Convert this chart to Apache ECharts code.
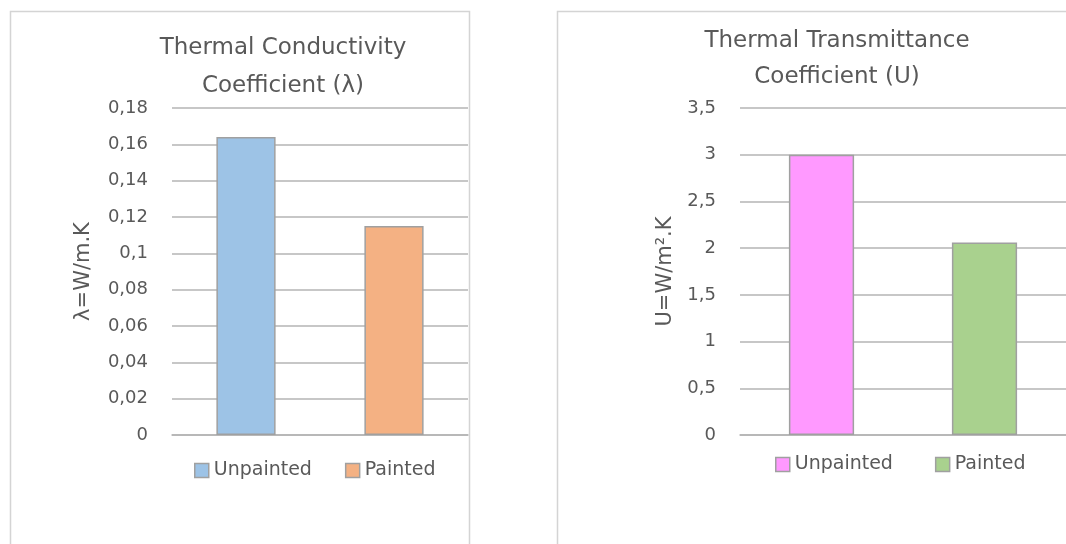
<!DOCTYPE html>
<html><head><meta charset="utf-8">
<script src="https://cdn.jsdelivr.net/npm/echarts@6/dist/echarts.min.js"></script>
<style>html,body{margin:0;padding:0;background:#fff}#c{width:1066px;height:544px}</style>
</head><body><div id="c"></div>
<script>
// ---- data ----
const categories = ['Unpainted', 'Painted'];
const lambdaValues = [0.164, 0.115];
const uValues = [3.0, 2.06];
const lambdaAxis = { min: 0, max: 0.18, interval: 0.02 };
const uAxis = { min: 0, max: 3.5, interval: 0.5 };
const titles = ['Thermal Conductivity\nCoefficient (λ)', 'Thermal Transmittance\nCoefficient (U)'];
const axisNames = ['λ=W/m.K', 'U=W/m².K'];
const leftColors = ['#9DC3E6', '#F4B183'];
const rightColors = ['#FF99FF', '#A9D18E'];

// ---- styles ----
const FONT = 'DejaVu Sans';
const TXT = '#595959';
const GRID = '#b4b4b4';
const BORDER = '#a0a0a0';

function fmt(v) { return String(+v.toFixed(2)).replace('.', ','); }

function yAxisFor(idx, ax, name, gap) {
  return {
    type: 'value', gridIndex: idx, min: ax.min, max: ax.max, interval: ax.interval,
    name: name, nameLocation: 'middle', nameGap: gap,
    nameTextStyle: { color: TXT, fontFamily: FONT, fontSize: 21 },
    axisLine: { show: false }, axisTick: { show: false },
    axisLabel: { color: TXT, fontFamily: FONT, fontSize: 18, margin: 24, formatter: fmt },
    splitLine: { lineStyle: { color: GRID, width: 1.5 } }
  };
}
function xAxisFor(idx) {
  return {
    type: 'category', gridIndex: idx, data: categories,
    axisLine: { lineStyle: { color: GRID, width: 1.5 } },
    axisTick: { show: false }, axisLabel: { show: false }
  };
}
function seriesFor(idx, values, colors) {
  return categories.map((c, i) => ({
    type: 'bar', name: c, xAxisIndex: idx, yAxisIndex: idx,
    data: categories.map((_, j) => (j === i ? values[i] : null)),
    barWidth: '40%', barGap: '-100%',
    itemStyle: { color: colors[i], borderColor: BORDER, borderWidth: 1.5 }
  }));
}
function legendFor(left, top, gap, colors) {
  return {
    left: left, top: top, padding: 0, itemWidth: 14, itemHeight: 14, itemGap: gap, icon: 'rect',
    textStyle: { color: TXT, fontFamily: FONT, fontSize: 19 },
    data: categories.map((c, i) => ({ name: c, itemStyle: { color: colors[i], borderColor: BORDER, borderWidth: 1.5 } }))
  };
}

const option = {
  backgroundColor: '#fff',
  animation: false,
  title: [
    { text: titles[0], left: 283, top: 29, padding: 0, textAlign: 'center',
      textStyle: { color: TXT, fontFamily: FONT, fontSize: 23, fontWeight: 'normal', lineHeight: 38 } },
    { text: titles[1], left: 837, top: 23, padding: 0, textAlign: 'center',
      textStyle: { color: TXT, fontFamily: FONT, fontSize: 23, fontWeight: 'normal', lineHeight: 36 } }
  ],
  graphic: [
    { type: 'rect', shape: { x: 10.5, y: 11.5, width: 459, height: 600 }, style: { fill: 'none', stroke: '#d4d4d4', lineWidth: 1.5 }, silent: true },
    { type: 'rect', shape: { x: 557.5, y: 11.5, width: 600, height: 600 }, style: { fill: 'none', stroke: '#d4d4d4', lineWidth: 1.5 }, silent: true }
  ],
  grid: [
    { left: 172, top: 108, width: 296, height: 327 },
    { left: 740, top: 108, width: 336, height: 327 }
  ],
  xAxis: [xAxisFor(0), xAxisFor(1)],
  yAxis: [yAxisFor(0, lambdaAxis, axisNames[0], 78), yAxisFor(1, uAxis, axisNames[1], 64)],
  legend: [legendFor(194, 461, 33, leftColors), legendFor(775, 455, 42, rightColors)],
  series: [...seriesFor(0, lambdaValues, leftColors), ...seriesFor(1, uValues, rightColors)]
};
const chart = echarts.init(document.getElementById('c'), null, { renderer: 'canvas' });
chart.setOption(option);
</script></body></html>
